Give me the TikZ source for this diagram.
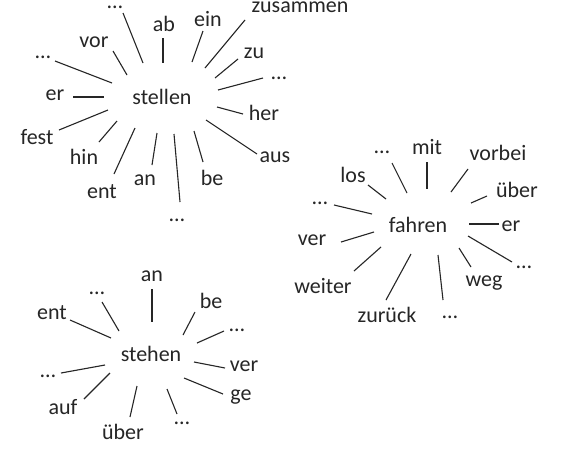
\documentclass[tikz,border=0pt]{standalone}
\usepackage{fontspec}
\setmainfont{Carlito}
\begin{document}
\begin{tikzpicture}[x=1pt,y=-1pt,
  lbl/.style={inner sep=0pt,font=\fontsize{22}{25}\selectfont,text=black!85},
  ray/.style={line width=1.1pt,draw=black!85}]
\useasboundingbox (0,0) rectangle (564,472);
\fill[white] (0,0) rectangle (564,472);
\clip (0,0) rectangle (564,472);
% centres
\node[lbl] (stellen) at (162,97) {stellen};
\node[lbl] (fahren) at (418,225) {fahren};
\node[lbl] (stehen) at (151,354) {stehen};
% stellen
\foreach \n/\t/\p/\a/\b in {
  s1/…/{115,7}/{123,13}/{143,63},
  s2/ab/{164,24}/{163,38}/{163,63},
  s3/ein/{208,19}/{203,31}/{192,62},
  s4/zusammen/{300,7}/{245,20}/{205,68},
  s5/zu/{254,53}/{238,59}/{215,78},
  s6/…/{279,78}/{263,78}/{218,90},
  s7/her/{264,113}/{243,114}/{217,107},
  s8/aus/{275,157}/{257,154}/{206,120},
  s9/be/{212,178}/{203,162}/{194,131},
  s10/…/{177,220}/{180,202}/{174,134},
  s11/an/{145,180}/{152,165}/{157,133},
  s12/ent/{102,192}/{114,174}/{135,128},
  s13/hin/{84,157}/{99,142}/{117,121},
  s14/fest/{37,137}/{59,130}/{108,110},
  s15/er/{55,95}/{73,97}/{104,97},
  s16/…/{43,57}/{55,61}/{112,83},
  s17/vor/{94,42}/{113,51}/{127,75},
  f1/…/{382,152}/{392,163}/{407,193},
  f2/mit/{427,147}/{427,162}/{427,189},
  f3/vorbei/{498,153}/{468,169}/{451,192},
  f4/über/{517,190}/{487,196}/{471,203},
  f5/er/{511,226}/{499,224}/{469,224},
  f6/…/{524,267}/{512,262}/{468,236},
  f7/weg/{484,283}/{471,267}/{459,248},
  f8/…/{450,317}/{443,300}/{438,255},
  f9/zurück/{387,315}/{386,300}/{411,254},
  f10/weiter/{323,286}/{354,271}/{381,247},
  f11/ver/{312,240}/{341,242}/{374,232},
  f12/…/{320,203}/{334,205}/{372,214},
  f13/los/{353,175}/{368,185}/{386,199},
  t1/an/{152,276}/{152,289}/{152,322},
  t2/be/{211,301}/{195,312}/{183,335},
  t3/…/{237,330}/{224,331}/{197,343},
  t4/ver/{244,366}/{225,368}/{194,362},
  t5/ge/{241,397}/{223,394}/{184,378},
  t6/…/{182,423}/{177,414}/{167,389},
  t7/über/{123,432}/{130,417}/{137,386},
  t8/auf/{63,407}/{84,399}/{110,373},
  t9/…/{48,376}/{61,373}/{105,365},
  t10/ent/{52,313}/{70,320}/{111,338},
  t11/…/{97,293}/{102,302}/{119,331}}
{
  \node[lbl] (\n) at (\p) {\t};
  \coordinate (\n-a) at (\a);
  \coordinate (\n-b) at (\b);
  \draw[ray] (\n-a) -- (\n-b);
}
\end{tikzpicture}
\end{document}
